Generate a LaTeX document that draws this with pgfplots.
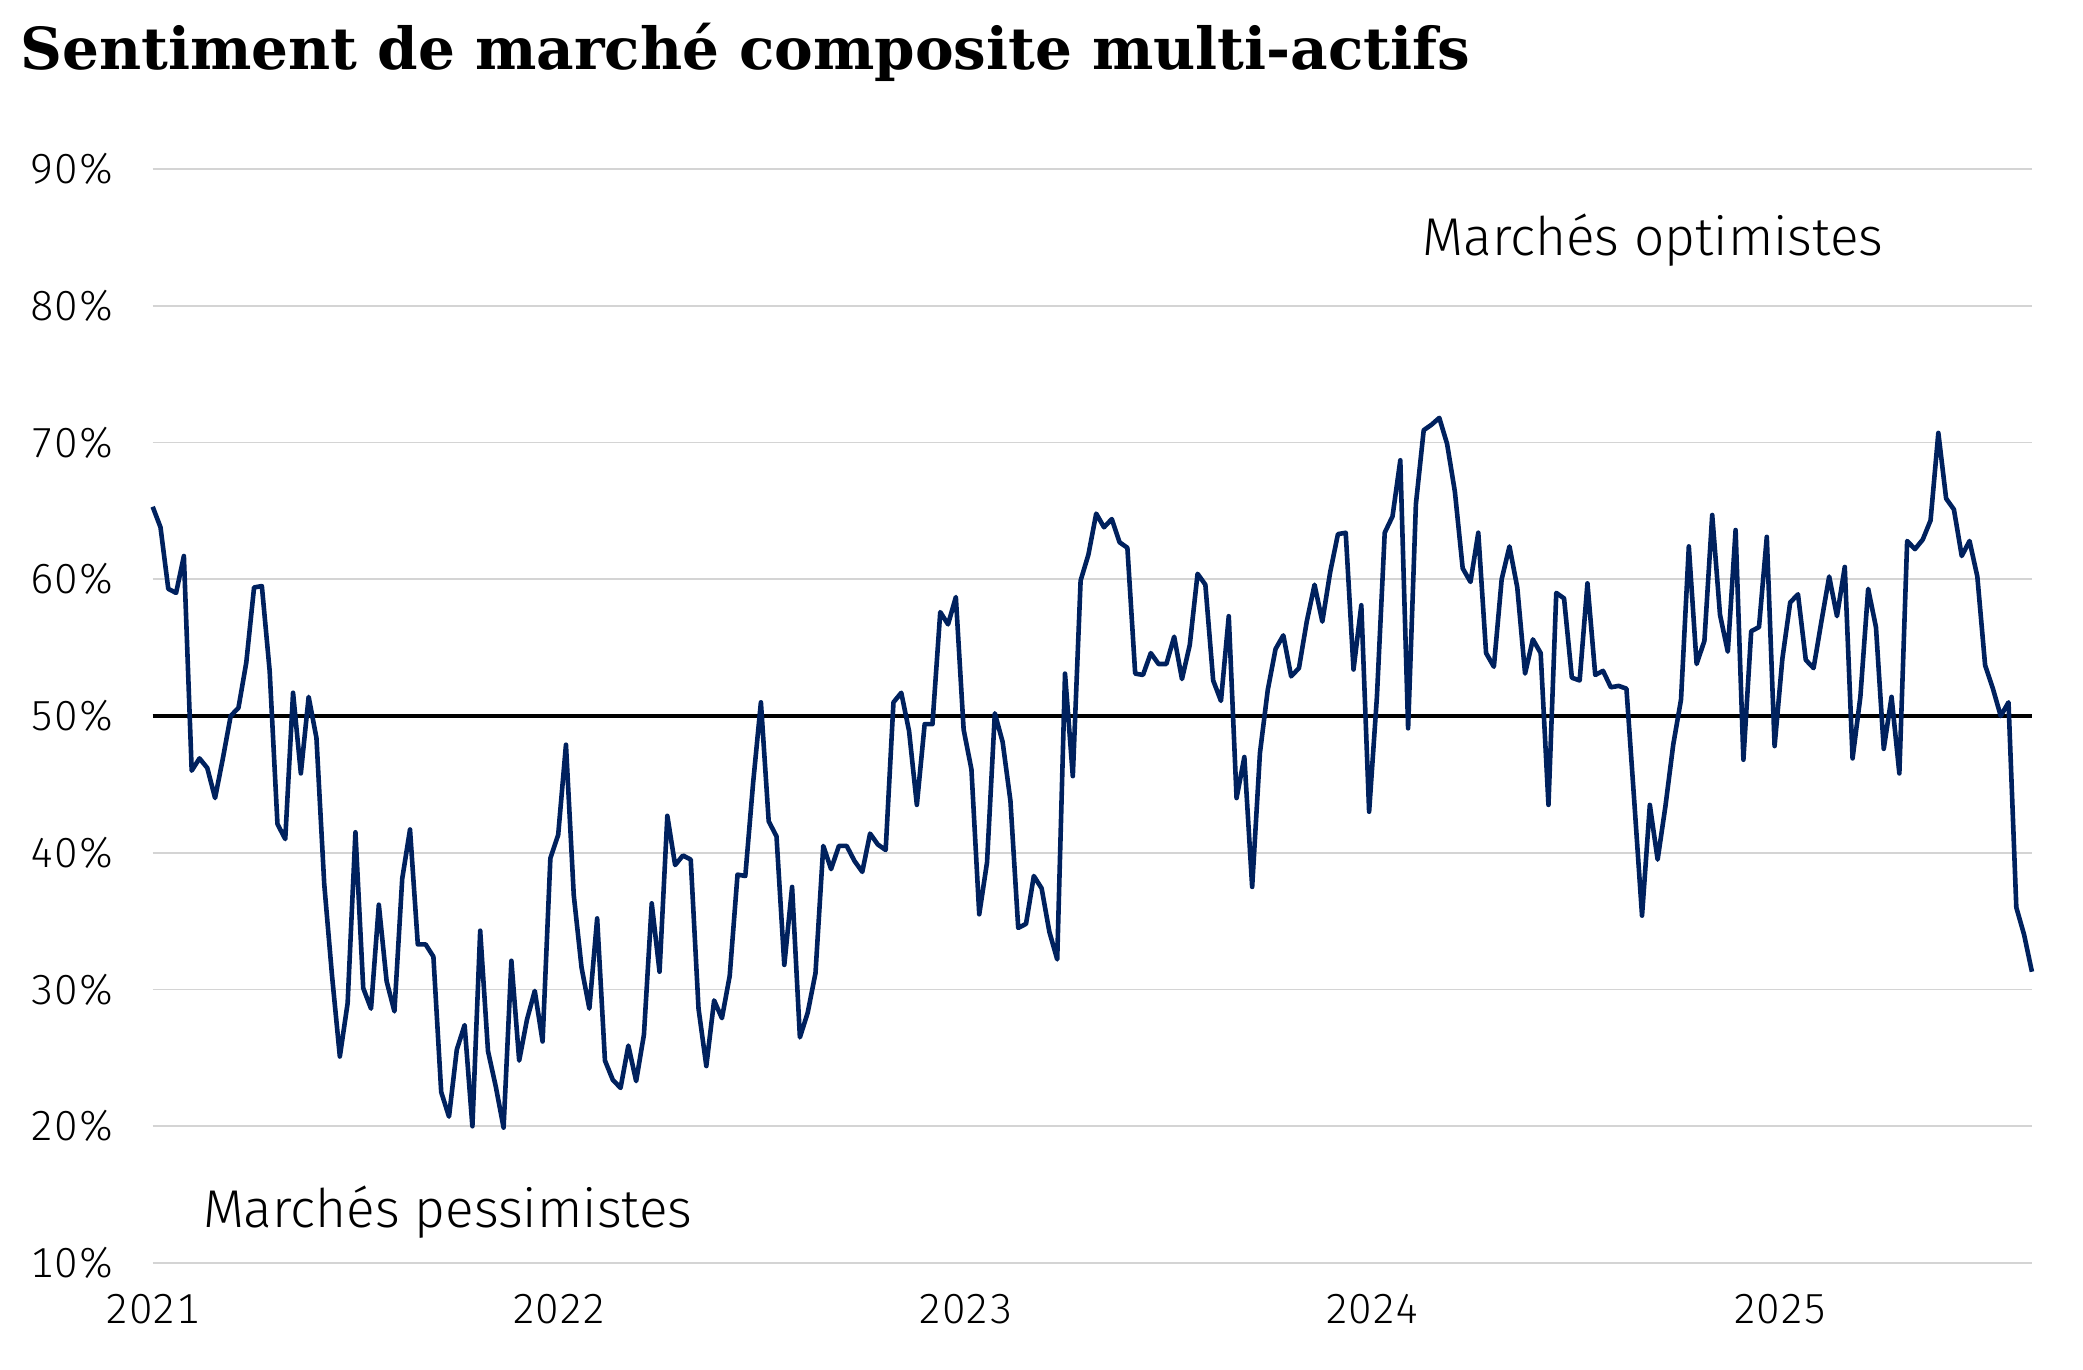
\documentclass[border=0pt]{standalone}
\usepackage{fontspec}
\setmainfont{Fira Sans Light}
\newfontfamily\tickfont{Fira Sans Light}[Numbers={Monospaced,Lining}]
\newfontfamily\titlefont{DejaVu Serif}
\usepackage{pgfplots}
\pgfplotsset{compat=1.18}
\usepackage{pgfplotstable}
\definecolor{navy}{HTML}{00215E}
\definecolor{gridgray}{HTML}{D4D4D4}

% weekly composite sentiment, Jan 2021 - Aug 2025 (in %)
\pgfplotstableread{
v
65.3
63.8
59.3
59.0
61.7
46.0
46.9
46.2
44.0
46.9
50.0
50.6
53.9
59.4
59.5
53.3
42.1
41.0
51.7
45.8
51.4
48.4
37.7
31.0
25.1
29.0
41.5
30.1
28.6
36.2
30.6
28.4
38.1
41.7
33.3
33.3
32.4
22.5
20.7
25.6
27.4
20.0
34.3
25.5
22.9
19.9
32.1
24.8
27.8
29.9
26.2
39.6
41.3
47.9
36.9
31.6
28.6
35.2
24.8
23.4
22.8
25.9
23.3
26.7
36.3
31.3
42.7
39.1
39.8
39.5
28.6
24.4
29.2
27.9
31.0
38.4
38.3
45.1
51.0
42.3
41.2
31.8
37.5
26.5
28.3
31.2
40.5
38.8
40.5
40.5
39.4
38.6
41.4
40.6
40.2
51.0
51.7
48.9
43.5
49.4
49.4
57.6
56.7
58.7
49.0
46.1
35.5
39.3
50.2
48.1
43.8
34.5
34.8
38.3
37.4
34.2
32.2
53.1
45.6
59.9
61.8
64.8
63.8
64.4
62.7
62.3
53.1
53.0
54.6
53.8
53.8
55.8
52.7
55.2
60.4
59.6
52.6
51.1
57.3
44.0
47.0
37.5
47.3
51.9
54.9
55.9
52.9
53.5
56.9
59.6
56.9
60.5
63.3
63.4
53.4
58.1
43.0
51.4
63.4
64.6
68.7
49.1
65.5
70.9
71.3
71.8
69.9
66.4
60.8
59.8
63.4
54.6
53.6
60.0
62.4
59.4
53.1
55.6
54.6
43.5
59.0
58.6
52.8
52.6
59.7
53.0
53.3
52.1
52.2
52.0
43.8
35.4
43.5
39.5
43.4
47.9
51.2
62.4
53.8
55.5
64.7
57.4
54.7
63.6
46.8
56.2
56.5
63.1
47.8
54.2
58.3
58.9
54.1
53.5
56.9
60.2
57.3
60.9
46.9
51.4
59.3
56.5
47.6
51.4
45.8
62.8
62.2
62.9
64.3
70.7
65.9
65.1
61.7
62.8
60.2
53.7
52.0
50.0
51.0
36.0
34.0
31.3
}\sentiment

\begin{document}
\begin{tikzpicture}
\begin{axis}[
  scale only axis,
  width=939.6pt, height=547pt,
  xmin=0, xmax=241,
  ymin=10, ymax=90,
  axis line style={draw=none},
  major tick length=0pt,
  xtick={0,52.14,104.29,156.43,208.71},
  xticklabels={2021,2022,2023,2024,2025},
  ytick={10,20,...,90},
  yticklabels={10\%,20\%,30\%,40\%,50\%,60\%,70\%,80\%,90\%},
  ymajorgrids,
  grid style={gridgray, line width=0.8pt},
  tick label style={font=\tickfont\fontsize{21}{24}\selectfont, text=black},
  yticklabel style={xshift=-15pt},
  xticklabel style={yshift=-12pt},
  clip=false,
]
\addplot[black, line width=2.4pt] coordinates {(0,50) (241,50)};
\addplot[navy, line width=2.3pt, line join=round] table[x expr=\coordindex, y=v] {\sentiment};
\node[anchor=base west, inner sep=0pt, font=\fontsize{26.6}{30}\selectfont] at (axis cs:162.8,83.7) {Marchés optimistes};
\node[anchor=base west, inner sep=0pt, font=\fontsize{26.6}{30}\selectfont] at (axis cs:6.4,12.6) {Marchés pessimistes};
\end{axis}
\path (-76.35pt,-53.5pt) rectangle (965.15pt,631.5pt);
\node[anchor=base west, inner sep=0pt, font=\titlefont\bfseries\fontsize{29}{34}\selectfont] at (-66.35pt,596.85pt) {Sentiment de marché composite multi-actifs};
\end{tikzpicture}
\end{document}
